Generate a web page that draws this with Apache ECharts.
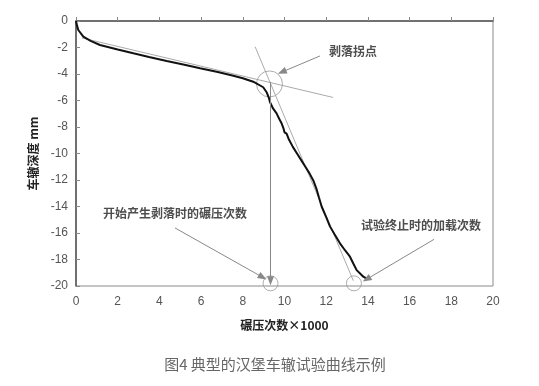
<!DOCTYPE html>
<html><head><meta charset="utf-8">
<script src="https://cdn.jsdelivr.net/npm/echarts@6/dist/echarts.min.js"></script>
<style>html,body{margin:0;padding:0;background:#fff}#c{width:539px;height:386px}</style>
</head><body><div id="c"></div>
<script>
// Rutting curve: x = passes ×1000, y = rut depth (mm)
var curveX = [0,0.05,0.11,0.35,0.7,1.15,2,2.75,3.5,4.35,5.2,5.95,6.8,7.5,8.0,8.5,8.98,9.15,9.25,9.3,9.45,9.62,9.75,9.86,9.95,10.0,10.1,10.2,10.4,10.6,10.8,11.0,11.2,11.4,11.55,11.65,11.78,12.0,12.18,12.4,12.66,12.9,13.14,13.3,13.46,13.65,13.78,13.94];
var curveY = [0,-0.35,-0.68,-1.18,-1.5,-1.81,-2.15,-2.44,-2.72,-3.02,-3.3,-3.57,-3.85,-4.12,-4.32,-4.58,-5.0,-5.4,-5.8,-6.1,-6.6,-6.97,-7.4,-7.72,-8.1,-8.4,-8.5,-8.9,-9.5,-10.0,-10.5,-11.0,-11.5,-12.1,-12.75,-13.3,-14.0,-14.8,-15.5,-16.1,-16.78,-17.3,-17.79,-18.3,-18.8,-19.1,-19.3,-19.45];
// tangent lines
var tangent1 = [[0.29,-1.28],[12.33,-5.77]];
var tangent2 = [[8.59,-1.94],[13.3,-19.6]];
// vertical projection from knee point
var dropLine = [[9.33,-4.6],[9.33,-19.6]];
// circles marking points
var circlePts = [[9.28,-4.75],[9.33,-19.8],[13.33,-19.8]];
var circleSizes = [26,15,15];
// annotations
var annoText = ['剥落拐点','开始产生剥落时的碾压次数','试验终止时的加载次数'];
var annoPos = [[13.29,-2.26],[4.75,-14.49],[16.55,-15.40]];
var arrowFrom = [[11.70,-2.64],[4.75,-15.62],[17.17,-16.48]];
var arrowTo = [[9.88,-3.85],[8.95,-19.34],[13.94,-19.49]];
var xTicks = [0,2,4,6,8,10,12,14,16,18,20];
var yTicks = [0,-2,-4,-6,-8,-10,-12,-14,-16,-18,-20];

var chart = echarts.init(document.getElementById('c'));
var boldFont = '"Noto Sans CJK SC", sans-serif';
chart.setOption({
  animation:false,
  title:{text:'图4 典型的汉堡车辙试验曲线示例',left:270,textAlign:'center',top:352,
    textStyle:{fontFamily:'"Noto Sans CJK SC", sans-serif',fontSize:15,fontWeight:'normal',color:'#666'}},
  grid:{left:76,top:21,right:46,bottom:100,show:true,borderColor:'#8a8a8a',borderWidth:1},
  xAxis:{type:'value',min:xTicks[0],max:xTicks[xTicks.length-1],interval:2,
    name:'碾压次数×1000',nameLocation:'middle',nameGap:33,
    nameTextStyle:{fontFamily:boldFont,fontWeight:'bold',fontSize:12,color:'#222'},
    axisLine:{lineStyle:{color:'#555',width:1.5}},
    axisTick:{inside:true,length:4,lineStyle:{color:'#888'}},
    axisLabel:{color:'#555',fontSize:12,fontFamily:'Arial, "Liberation Sans", sans-serif',margin:10},
    splitLine:{show:false}},
  yAxis:{type:'value',min:yTicks[yTicks.length-1],max:yTicks[0],interval:2,
    name:'车辙深度 mm',nameLocation:'middle',nameGap:31,
    nameTextStyle:{fontFamily:boldFont,fontWeight:'bold',fontSize:12,color:'#222'},
    axisLine:{lineStyle:{color:'#555',width:1.5}},
    axisTick:{inside:true,length:4,lineStyle:{color:'#888'}},
    axisLabel:{color:'#555',fontSize:12,fontFamily:'Arial, "Liberation Sans", sans-serif',margin:8},
    splitLine:{show:false}},
  series:[
    {type:'line',data:tangent1,showSymbol:false,lineStyle:{color:'#aaa',width:1},z:1},
    {type:'line',data:tangent2,showSymbol:false,lineStyle:{color:'#aaa',width:1},z:1},
    {type:'line',data:curveX.map(function(x,i){return [x,curveY[i]];}),showSymbol:false,
      lineStyle:{color:'#111',width:2},z:3},
    {type:'scatter',data:circlePts.map(function(p,i){return {value:p,symbolSize:circleSizes[i]};}),
      symbol:'circle',itemStyle:{color:'rgba(0,0,0,0)',borderColor:'#999',borderWidth:1},z:2},
    {type:'scatter',data:annoPos.map(function(p,i){return {value:p,name:annoText[i]};}),symbolSize:0,
      label:{show:true,position:'inside',formatter:'{b}',fontFamily:boldFont,fontWeight:'bold',fontSize:12,color:'#222'},z:4},
    {type:'line',data:[],markLine:{silent:true,symbol:['none','triangle'],symbolSize:[7,9],
      lineStyle:{color:'#888',width:1,type:'solid'},label:{show:false},
      itemStyle:{color:'#111'},
      data:arrowFrom.map(function(p,i){return [{coord:p},{coord:arrowTo[i]}];})
        .concat([[{coord:dropLine[0]},{coord:dropLine[1]}]])}}
  ]
});
</script></body></html>
